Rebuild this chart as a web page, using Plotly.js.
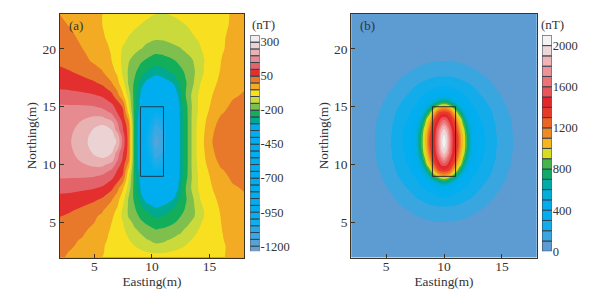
<!DOCTYPE html>
<html><head><meta charset="utf-8">
<script src="https://cdn.plot.ly/plotly-3.0.1.min.js"></script>
<style>html,body{margin:0;padding:0;background:#fff}#c{width:605px;height:295px}</style>
</head><body><div id="c"></div>
<script>
// ---------- Panel (a): anomaly field (nT) ----------
const xA = [2,3,4,5,5.7,6.5,7,7.5,8,8.5,9,9.5,10.3,11,12,12.5,13,13.5,14,14.5,15,16,17,18];
const yA = [2,2.5,3,3.5,4,4.5,5,5.5,6,6.5,7,7.5,8,8.5,9,9.5,10,10.5,11,11.5,12,12.5,13,13.5,14,14.5,15,15.5,16,16.5,17,17.5,18,18.5,19,19.5,20,20.5,21,21.5,22,23];
const a_y2  = [5,-6,-27,-40,-50,-55,-60,-64,-68,-72,-75,-77,-78,-77,-73,-71,-69,-66,-63,-60,-58,-53,-44,-37];
const a_y25 = [6,-2,-18,-36,-48,-58,-66,-73,-80,-86,-93,-101,-108,-106,-95,-89,-83,-78,-72,-67,-63,-54,-43,-36];
const a_y3  = [8,3,-8,-32,-46,-62,-72,-82,-92,-100,-112,-125,-140,-136,-118,-108,-97,-90,-82,-75,-68,-55,-42,-35];
const a_y35 = [13,5,-3,-24,-39,-61,-75,-86,-98,-114,-130,-145,-162,-158,-138,-127,-110,-98,-88,-78,-69,-53,-40,-32];
const a_y4  = [18,8,2,-15,-32,-60,-78,-90,-108,-128,-147,-165,-185,-180,-158,-147,-125,-108,-95,-82,-70,-52,-38,-30];
const a_y45 = [28,16,7,-7,-25,-55,-79,-95,-118,-146,-168,-185,-203,-198,-178,-162,-145,-124,-103,-87,-75,-51,-35,-27];
const a_y5  = [38,25,12,0,-18,-50,-80,-100,-130,-165,-190,-205,-225,-220,-200,-178,-165,-140,-112,-92,-80,-50,-33,-25];
const a_d75 = [31,20,6,-13,-28,-52,-80,-109,-135,-152,-172,-185,-203,-198,-182,-170,-155,-138,-120,-98,-82,-52,-35,-28];
const a_d7  = [38,25,12,-8,-22,-50,-80,-112,-147,-170,-192,-205,-222,-218,-200,-183,-170,-153,-128,-102,-85,-50,-33,-25];
const a_d65 = [50,38,24,5,-9,-42,-70,-112,-155,-180,-206,-228,-252,-245,-218,-198,-180,-160,-130,-100,-84,-48,-30,-21];
const a_d6  = [60,52,36,18,3,-32,-60,-112,-160,-192,-222,-250,-275,-268,-238,-212,-190,-165,-132,-100,-82,-45,-28,-18];
const a_d55 = [72,66,54,38,22,-14,-45,-100,-160,-200,-245,-280,-318,-300,-255,-222,-195,-165,-120,-92,-74,-42,-24,-13];
const a_d5  = [85,80,72,58,42,5,-32,-85,-160,-210,-265,-320,-375,-350,-290,-235,-200,-163,-110,-85,-68,-38,-20,-8];
const a_d45 = [100,97,90,80,68,35,-8,-65,-145,-220,-285,-390,-480,-450,-310,-248,-195,-150,-105,-82,-63,-32,-14,-2];
const a_d4  = [115,113,110,103,92,62,18,-45,-125,-225,-300,-490,-620,-570,-340,-260,-190,-140,-100,-78,-58,-25,-7,5];
const a_d35 = [142,138,135,128,118,90,52,0,-112,-225,-310,-540,-750,-680,-360,-265,-200,-142,-100,-75,-54,-20,2,10];
const a_d3  = [155,155,155,152,140,115,82,42,-100,-225,-320,-680,-880,-800,-380,-270,-210,-145,-100,-72,-50,-15,10,15];
const a_d25 = [160,165,175,182,175,143,98,58,-70,-230,-335,-790,-960,-900,-400,-272,-212,-142,-96,-68,-44,-5,16,21];
const a_d2  = [165,175,195,210,210,180,130,70,-20,-235,-345,-850,-1050,-1000,-420,-275,-215,-140,-92,-62,-35,8,25,27];
const a_d15 = [168,185,212,240,247,228,160,92,10,-238,-350,-880,-1100,-1050,-430,-275,-215,-140,-88,-58,-28,20,33,33];
const a_d1  = [172,192,225,255,265,250,175,100,25,-240,-355,-920,-1140,-1090,-435,-275,-215,-140,-85,-55,-22,30,40,38];
const a_d05 = [174,198,230,268,285,268,225,120,25,-240,-358,-950,-1160,-1110,-438,-275,-215,-140,-85,-52,-16,35,43,40];
const a_d0  = [175,200,232,275,295,272,245,130,25,-240,-360,-960,-1175,-1120,-440,-275,-215,-140,-85,-50,-12,38,45,42];
const a_y20 = [25,14,0,-18,-35,-55,-80,-106,-120,-132,-148,-160,-175,-170,-158,-152,-135,-122,-110,-92,-78,-55,-38,-30];
const a_y205= [20,10,-4,-24,-40,-58,-78,-96,-110,-122,-136,-148,-158,-156,-146,-138,-125,-113,-103,-88,-74,-55,-40,-33];
const a_y21 = [15,6,-8,-30,-46,-60,-75,-88,-102,-113,-123,-133,-142,-142,-133,-125,-115,-105,-95,-82,-70,-55,-42,-35];
const a_y215= [12,2,-14,-34,-48,-61,-72,-83,-94,-103,-112,-120,-128,-128,-121,-115,-107,-98,-90,-80,-70,-56,-44,-37];
const a_y22 = [8,-3,-20,-38,-50,-62,-70,-78,-86,-94,-101,-107,-114,-114,-110,-105,-100,-93,-85,-78,-70,-57,-46,-40];
const a_y23 = [0,-12,-28,-43,-50,-60,-67,-73,-79,-85,-89,-93,-100,-102,-96,-92,-88,-82,-76,-70,-65,-55,-48,-42];
const zA = [a_y2,a_y25,a_y3,a_y35,a_y4,a_y45,a_y5,a_d65,a_d6,a_d55,a_d5,a_d45,a_d4,a_d35,a_d3,a_d25,a_d2,a_d15,a_d1,a_d05,a_d0,a_d05,a_d1,a_d15,a_d2,a_d25,a_d3,a_d35,a_d4,a_d45,a_d5,a_d55,a_d6,a_d65,a_d7,a_d75,a_y20,a_y205,a_y21,a_y215,a_y22,a_y23];

const levelsA = [-1250,-1200,-1150,-1100,-1050,-1000,-950,-900,-850,-800,-750,-700,-650,-600,-550,-500,-450,-400,-350,-300,-250,-200,-150,-100,-50,0,50,100,150,200,250,300];
const coloursA = ['#6e9ccb','#55a3d8','#3aa8e2','#22abe9','#12adec','#08aeee','#00aeef','#00aeef','#00aeef','#00aeef','#00aeef','#00aeef','#00aeef','#00aeef','#00aeef','#00aeef','#00aeef','#00aeef','#00aeef','#00a98f','#12ae5a','#7fbf4d','#c9da3a','#f8e020','#f2ab22','#e8792a','#e3302f','#e3636a','#e68c90','#e9b2b2','#ecd3d3','#f2ecec'];
const ticksA = [300,50,-200,-450,-700,-950,-1200];
const tickTextA = ['300','50','-200','-450','-700','-950','-1200'];

// ---------- Panel (b): field, quadrant rows (nT) ----------
const dxB = [0,.25,.5,.75,1,1.25,1.5,1.75,2,2.25,2.5,3,3.5,4,4.5,5,5.5,6,7,8];
const b_d0   = [2080,1940,1720,1500,1400,1300,1060,950,800,600,480,345,306,261,205,175,135,98,57,33];
const b_d05  = [2020,1920,1690,1490,1390,1290,1050,945,790,600,480,343,304,259,203,174,133,97,56,33];
const b_d1   = [1930,1840,1640,1460,1365,1210,1005,915,710,565,465,336,297,252,198,169,129,93,55,32];
const b_d15  = [1770,1660,1520,1410,1320,1100,965,835,630,520,425,325,287,242,195,162,122,89,53,30];
const b_d2   = [1540,1510,1415,1330,1155,985,895,680,545,460,390,310,271,218,185,151,115,87,50,28];
const b_d25  = [1365,1340,1285,1120,980,855,680,545,470,395,345,290,251,213,176,139,104,80,47,26];
const b_d3   = [1065,1040,960,855,745,595,520,450,390,345,305,266,230,195,160,126,95,73,45,25];
const b_d35  = [700,680,610,550,505,455,405,370,335,295,275,239,207,175,141,110,86,67,41,23];
const b_d4   = [450,440,425,405,385,360,330,302,285,265,245,211,183,153,123,95,76,60,37,21];
const b_d45  = [345,340,330,318,297,282,268,255,243,230,215,185,158,130,102,83,66,52,33,19];
const b_d5   = [265,263,258,252,245,238,228,218,206,196,186,156,132,107,88,71,58,46,28,17];
const b_d55  = [210,209,207,204,201,193,184,174,165,155,145,128,107,90,74,63,49,41,24,15];
const b_d6   = [165,164,162,160,156,152,146,140,132,124,116,100,88,74,63,52,43,36,21,12];
const b_d65  = [125,124,122,120,117,114,110,106,102,97,92,83,71,62,51,44,37,29,18,11];
const b_d7   = [97,97,96,95,94,92,90,87,83,80,76,67,59,50,44,37,29,23,16,10];
const b_d8   = [55,55,54,54,53,52,51,50,48,47,46,44,39,34,28,23,20,16,11,7];
const b_d10  = [25,25,25,24,24,24,23,23,22,21,20,17,15,13,12,10,9,8,5,3];
const b_d11  = [15,15,15,15,14,14,14,13,13,12,12,10,9,9,8,7,5,4,3,2];
const xB = dxB.slice().reverse().map(d => 10 - d).concat(dxB.slice(1).map(d => 10 + d));
const yB = [2,4,5,5.5,6,6.5,7,7.5,8,8.5,9,9.5,10,10.5,11,11.5,12,12.5,13,13.5,14,14.5,15,15.5,16,16.5,17,17.5,18,18.5,19,20,22,23];
const rowsB = [b_d10,b_d8,b_d7,b_d65,b_d6,b_d55,b_d5,b_d45,b_d4,b_d35,b_d3,b_d25,b_d2,b_d15,b_d1,b_d05,b_d0,b_d05,b_d1,b_d15,b_d2,b_d25,b_d3,b_d35,b_d4,b_d45,b_d5,b_d55,b_d6,b_d65,b_d7,b_d8,b_d10,b_d11];
const zB = rowsB.map(r => r.slice().reverse().concat(r.slice(1)));

const levelsB = [0,100,200,300,400,500,600,700,800,900,1000,1100,1200,1300,1400,1500,1600,1700,1800,1900,2000];
const coloursB = ['#5d9bd3','#3aa6e0','#12acea','#02aeef','#00aeef','#00aed8','#00aba8','#10a968','#45b549','#d8dd22','#f6b41e','#ef8a26','#ec6426','#e63a2a','#e5272c','#e8555a','#ec7277','#ef9296','#f0b4b4','#ecd8d8','#f4f2f2'];
const ticksB = [2000,1600,1200,800,400,0];

// ---------- Prism outline, ranges, shared text ----------
const prismX = [9,11], prismY = [9,15];
const xRange = [2,18], yRange = [2,23];
const xTicks = [5,10,15], yTicks = [5,10,15,20];
const W = 605, H = 295;
const FONT = 'Liberation Serif';
const INK = '#333333', FRAME = '#3d3426';

// Plotly centres band k of a filled contour on (k+1)/n of the colour scale.
function bandScale(cols){
  const n = cols.length, s = [[0,cols[0]]];
  cols.forEach((c,i) => s.push([(i+1)/n,c]));
  return s;
}
const fx = (a,b) => [a/W, b/W];
const fy = (top,bot) => [1-bot/H, 1-top/H];

const traces = [
 {type:'contour', x:xA, y:yA, z:zA, xaxis:'x', yaxis:'y', showscale:false, hoverinfo:'skip',
  colorscale:bandScale(coloursA), autocontour:false,
  contours:{start:-1250,end:300,size:50,coloring:'fill'}, line:{width:0,smoothing:1}},
 {type:'contour', x:xB, y:yB, z:zB, xaxis:'x2', yaxis:'y2', showscale:false, hoverinfo:'skip',
  colorscale:bandScale(coloursB), autocontour:false,
  contours:{start:0,end:2000,size:100,coloring:'fill'}, line:{width:0,smoothing:1}},
 {type:'bar', x:levelsA.map(()=>0), y:levelsA.map(()=>50), base:levelsA, width:1, xaxis:'x3', yaxis:'y3',
  marker:{color:coloursA, line:{color:'#33414f',width:1}}, hoverinfo:'skip'},
 {type:'bar', x:levelsB.map(()=>0), y:levelsB.map(()=>100), base:levelsB, width:1, xaxis:'x4', yaxis:'y4',
  marker:{color:coloursB, line:{color:'#33414f',width:1}}, hoverinfo:'skip'}
];

function xAxis(dom,anchor,title){
  return {domain:dom, anchor:anchor, range:xRange, tickvals:xTicks, ticks:'inside', ticklen:4, tickcolor:FRAME,
    ticklabelstandoff:-4, showgrid:false, zeroline:false, mirror:true, showline:true, linecolor:FRAME, linewidth:1,
    tickfont:{family:FONT,size:13.5,color:INK},
    title:{text:title,font:{family:FONT,size:13.3,color:INK},standoff:0}};
}
function yAxis(dom,anchor,title){
  return {domain:dom, anchor:anchor, range:yRange, tickvals:yTicks, ticks:'inside', ticklen:4, tickcolor:FRAME,
    showgrid:false, zeroline:false, mirror:true, showline:true, linecolor:FRAME, linewidth:1,
    tickfont:{family:FONT,size:13.5,color:INK},
    title:{text:title,font:{family:FONT,size:13.3,color:INK},standoff:2}};
}
function barX(dom,anchor){
  return {domain:dom, anchor:anchor, range:[-.5,.5], visible:false, fixedrange:true};
}
function barY(dom,anchor,range,vals,text){
  return {domain:dom, anchor:anchor, side:'right', range:range, tickvals:vals, ticktext:text, ticks:'',
    showgrid:false, zeroline:false, showline:false, tickfont:{family:FONT,size:12.5,color:INK}};
}
const plotY = fy(14,257.5), barYd = fy(35.3,251.3);
const note = (text,x,y) => ({text:text,xref:'paper',yref:'paper',x:x/W,y:1-y/H,xanchor:'center',yanchor:'middle',showarrow:false,font:{family:FONT,size:13,color:INK}});
const layout = {
 width:W, height:H, margin:{l:0,r:0,t:0,b:0}, paper_bgcolor:'#fff', plot_bgcolor:'#fff',
 showlegend:false, barmode:'overlay', bargap:0,
 xaxis:xAxis(fx(59.7,244.2),'y','Easting(m)'),
 yaxis:yAxis(plotY,'x','Northing(m)'),
 xaxis2:xAxis(fx(351.3,536.7),'y2','Easting(m)'),
 yaxis2:yAxis(plotY,'x2','Northing(m)'),
 xaxis3:barX(fx(250.2,259.6),'y3'),
 yaxis3:barY(barYd,'x3',[-1238,350],ticksA,tickTextA),
 xaxis4:barX(fx(542,551.8),'y4'),
 yaxis4:barY(barYd,'x4',[0,2100],ticksB,ticksB.map(String)),
 shapes:[
  {type:'rect',xref:'x',yref:'y',x0:prismX[0],x1:prismX[1],y0:prismY[0],y1:prismY[1],line:{color:'#1f3d50',width:1}},
  {type:'rect',xref:'x2',yref:'y2',x0:prismX[0],x1:prismX[1],y0:prismY[0],y1:prismY[1],line:{color:'#2b2a2a',width:1}}
 ],
 annotations:[note('(a)',75.5,25),note('(b)',368,25),note('(nT)',263,24),note('(nT)',552,24)]
};
Plotly.newPlot('c',traces,layout,{staticPlot:true,displayModeBar:false});
</script></body></html>
